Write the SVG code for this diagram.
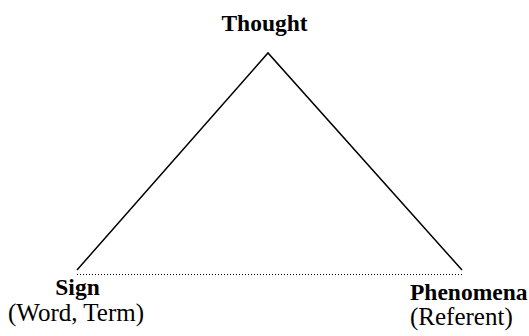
<svg xmlns="http://www.w3.org/2000/svg" width="529" height="336" viewBox="0 0 529 336">
<style>
.b{font-family:"Liberation Serif","Times New Roman",serif;font-weight:bold;font-size:23.5px;fill:#000}
.r{font-family:"Liberation Serif","Times New Roman",serif;font-size:25px;fill:#000}
.edge{stroke:#000;stroke-width:1.5;fill:none}
.dot{stroke:#000;stroke-width:1;fill:none;stroke-dasharray:1 2}
</style>
<rect width="529" height="336" fill="#fff"/>
<g id="connectors">
<path class="edge" d="M77,270 L268,53 L462,270"/>
<path class="dot" d="M77,274.5 H462"/>
</g>
<g id="thought"><text class="b" x="264.5" y="31" text-anchor="middle">Thought</text></g>
<g id="sign"><text class="b" x="77.5" y="295" text-anchor="middle">Sign</text><text class="r" x="76" y="321" text-anchor="middle">(Word, Term)</text></g>
<g id="phenomena"><text class="b" x="410" y="300">Phenomena</text><text class="r" x="410" y="325">(Referent)</text></g>
</svg>
